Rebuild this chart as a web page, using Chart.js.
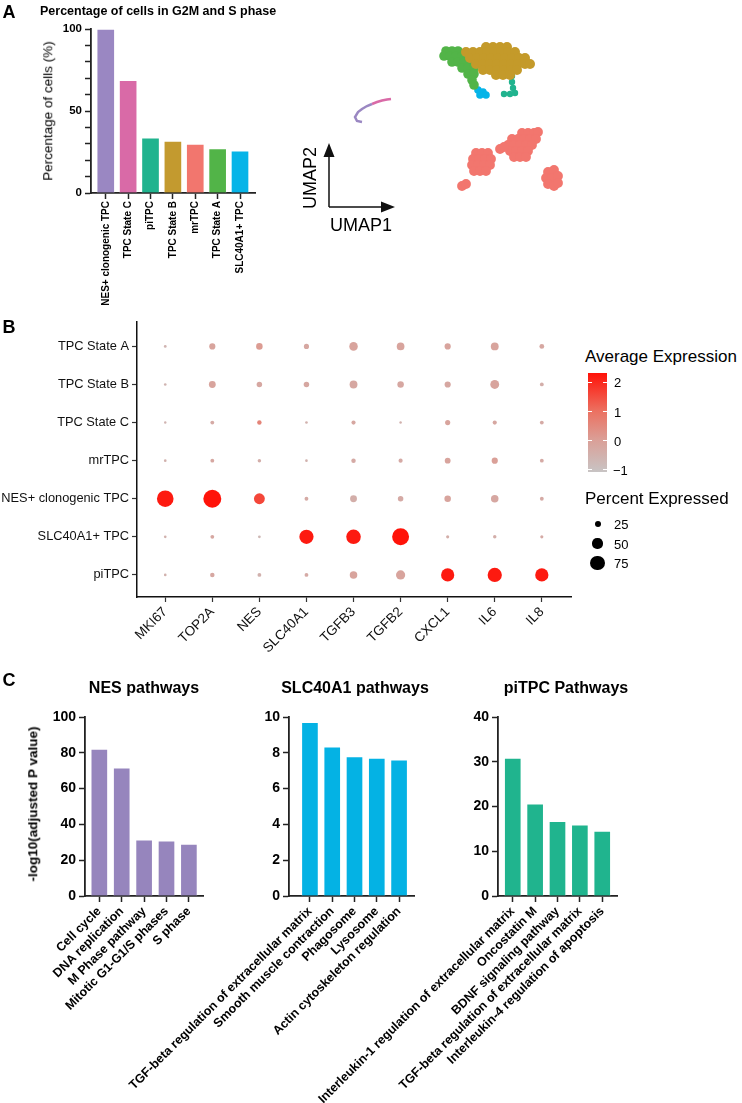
<!DOCTYPE html>
<html>
<head>
<meta charset="utf-8">
<script src="https://cdn.jsdelivr.net/npm/chart.js@4.4.1/dist/chart.umd.min.js"></script>
<style>
  body { margin: 0; background: #fff; }
  #page { position: relative; width: 742px; height: 1103px; overflow: hidden;
          font-family: "Liberation Sans", Arial, Helvetica, sans-serif; color: #000; }
  canvas { position: absolute; }
  .t { position: absolute; white-space: nowrap; line-height: 1; }
  .c { transform: translate(-50%, -50%); }
  .l { transform: translate(0, -50%); }
  .r90 { transform: translate(-50%, -50%) rotate(-90deg); }
  .b { font-weight: bold; }
</style>
</head>
<body>
<div id="page">
  <canvas id="cycleChart" style="left:0;top:0" width="300" height="320"></canvas>
  <canvas id="umapChart" style="left:295px;top:30px" width="275" height="200"></canvas>
  <canvas id="dotChart" style="left:0;top:310px" width="580" height="370"></canvas>
  <canvas id="nesChart" style="left:0;top:700px" width="215" height="403"></canvas>
  <canvas id="slcChart" style="left:110px;top:700px" width="320" height="403"></canvas>
  <canvas id="piChart" style="left:300px;top:700px" width="330" height="403"></canvas>

  <div class="t c b" style="left:9px;top:11.5px;font-size:18px">A</div>
  <div class="t l b" style="left:40px;top:10.5px;font-size:12.5px">Percentage of cells in G2M and S phase</div>
  <div class="t r90" style="left:48px;top:111px;font-size:13.5px">Percentage of cells (%)</div>
  <div class="t r90" style="left:310px;top:178px;font-size:18px">UMAP2</div>
  <div class="t c" style="left:361px;top:225px;font-size:18px">UMAP1</div>

  <div class="t c b" style="left:9px;top:326.5px;font-size:18px">B</div>
  <div class="t l" style="left:585px;top:356px;font-size:17px">Average Expression</div>
  <div id="colorBar" style="position:absolute;left:588px;top:373px;width:19px;height:99px"></div>
  <div class="t l" style="left:614px;top:382px;font-size:13px">2</div>
  <div class="t l" style="left:614px;top:411.7px;font-size:13px">1</div>
  <div class="t l" style="left:614px;top:440.7px;font-size:13px">0</div>
  <div class="t l" style="left:613px;top:470px;font-size:13px">&minus;1</div>
  <div class="t l" style="left:585px;top:497.5px;font-size:17px">Percent Expressed</div>
  <div id="sizeLegend"></div>

  <div class="t c b" style="left:9px;top:680px;font-size:18px">C</div>
  <div class="t c b" style="left:144px;top:687.5px;font-size:16px">NES pathways</div>
  <div class="t c b" style="left:355px;top:687.5px;font-size:16px">SLC40A1 pathways</div>
  <div class="t c b" style="left:566px;top:687.5px;font-size:16px">piTPC Pathways</div>
  <div class="t r90 b" style="left:33px;top:804px;font-size:13.5px">-log10(adjusted P value)</div>
</div>
<script>
// panel A: cycling cells per cluster
const cycleTypes = ['NES+ clonogenic TPC', 'TPC State C', 'piTPC', 'TPC State B', 'mrTPC', 'TPC State A', 'SLC40A1+ TPC'];
const cyclePct = [100, 68.7, 33.6, 31.6, 29.9, 27.1, 25.7];
const cycleColors = ['#9a87c2', '#d96aa7', '#20b38e', '#c39a2f', '#f2766e', '#52b448', '#06b4e8'];

// panel A: UMAP (cluster regions)
const umapTpcB = [[16.1,15.3],[16.8,15.3],[17.5,15.3],[18.2,15.3],
  [14.1,14.8],[14.8,14.8],[15.5,14.8],[16.2,14.8],[16.9,14.8],[17.6,14.8],[18.3,14.8],[19.0,14.8],
  [14.5,14.2],[15.2,14.2],[15.9,14.2],[16.6,14.2],[17.3,14.2],[18.0,14.2],[18.7,14.2],[19.4,14.2],[20.0,14.2],
  [15.1,13.6],[15.8,13.6],[16.5,13.6],[17.2,13.6],[17.9,13.6],[18.6,13.6],[19.3,13.6],[20.0,13.6],[20.5,13.6],
  [15.8,13.0],[16.5,13.0],[17.2,13.0],[17.9,13.0],[18.6,13.0],[19.2,13.0],
  [17.1,12.5],[17.8,12.5],[18.5,12.5]];
const umapTpcA = [[12.1,14.9],[12.7,14.9],[13.3,14.9],
  [11.9,14.4],[12.5,14.4],[13.1,14.4],[13.7,14.4],
  [12.7,13.8],[13.3,13.8],[13.9,13.8],[14.4,13.8],
  [13.7,13.2],[14.3,13.2],[14.9,13.2],
  [14.3,12.6],[14.9,12.6],[14.7,12.0],[14.9,11.5]];
const umapSlc = [[15.3,11.0],[15.8,10.8],[15.5,10.5],[16.1,10.5]];
const umapPiTpc = [[18.7,12.4],[18.7,11.8],[18.8,11.2],[17.9,10.6],[18.5,10.6],[19.0,10.7]];
const umapMrTpc = [[15.1,4.7],[15.7,4.7],[16.3,4.7],
  [14.8,4.1],[15.4,4.1],[16.0,4.1],[16.6,4.1],
  [14.7,3.5],[15.3,3.5],[15.9,3.5],[16.5,3.5],
  [14.9,2.9],[15.5,2.9],[16.1,2.9],
  [19.7,6.7],[20.3,6.7],[20.9,6.7],[21.3,6.8],
  [18.7,6.1],[19.3,6.1],[19.9,6.1],[20.5,6.1],[21.1,6.1],
  [18.3,5.5],[18.9,5.5],[19.5,5.5],[20.1,5.5],[20.7,5.5],
  [18.5,4.9],[19.1,4.9],[19.7,4.9],[20.3,4.9],
  [18.9,4.3],[19.5,4.3],[20.1,4.3],
  [17.5,5.1],[17.9,5.3],[13.7,1.4],[14.1,1.6],
  [22.3,2.8],[22.9,3.0],[22.1,2.2],[22.7,2.2],[23.3,2.4],[22.3,1.6],[22.9,1.4],[23.3,1.7]];
const umapNes = [[3.7,7.8],[3.2,7.9],[3.0,8.3],[3.3,8.8],[3.7,9.1],[4.2,9.4],[4.7,9.6]];
const umapStateC = [[4.7,9.6],[5.2,9.8],[5.7,9.95],[6.2,10.05],[6.6,10.1]];

// panel B: dot plot
const dotGenes = ['MKI67', 'TOP2A', 'NES', 'SLC40A1', 'TGFB3', 'TGFB2', 'CXCL1', 'IL6', 'IL8'];
const dotRows = ['TPC State A', 'TPC State B', 'TPC State C', 'mrTPC', 'NES+ clonogenic TPC', 'SLC40A1+ TPC', 'piTPC'];
const pctExpressed = [
  [6, 26, 28, 20, 40, 35, 26, 36, 18],
  [5, 30, 22, 22, 36, 28, 26, 42, 12],
  [4, 12, 16, 5, 14, 4, 20, 14, 12],
  [5, 12, 10, 5, 16, 14, 24, 26, 12],
  [88, 96, 54, 12, 30, 22, 28, 34, 12],
  [5, 12, 6, 74, 76, 90, 8, 10, 8],
  [5, 16, 12, 12, 34, 44, 68, 74, 68]
];
const avgExpression = [
  [-0.6, -0.1, 0.1, -0.2, -0.1, -0.1, -0.1, -0.1, -0.2],
  [-0.6, -0.1, -0.2, -0.2, -0.2, -0.2, -0.2, -0.1, -0.4],
  [-0.6, -0.3, 0.6, -0.5, -0.2, -0.5, -0.1, -0.2, -0.3],
  [-0.5, -0.2, -0.4, -0.5, -0.3, -0.3, -0.1, 0.0, -0.3],
  [2.2, 2.3, 1.6, -0.3, -0.4, -0.3, -0.1, -0.2, -0.3],
  [-0.5, -0.2, -0.7, 2.2, 2.2, 2.3, -0.4, -0.4, -0.3],
  [-0.5, -0.2, -0.5, -0.3, -0.1, -0.1, 2.2, 2.2, 2.2]
];
const legendPct = [25, 50, 75];

// panel C: enriched pathways
const nesPathways = ['Cell cycle', 'DNA replication', 'M Phase pathway', 'Mitotic G1-G1/S phases', 'S phase'];
const nesScores = [82.1, 71.6, 31.4, 30.8, 29.0];
const slcPathways = ['TGF-beta regulation of extracellular matrix', 'Smooth muscle contraction', 'Phagosome', 'Lysosome', 'Actin cytoskeleton regulation'];
const slcScores = [9.7, 8.33, 7.79, 7.7, 7.61];
const piPathways = ['Interleukin-1 regulation of extracellular matrix', 'Oncostatin M', 'BDNF signaling pathway', 'TGF-beta regulation of extracellular matrix', 'Interleukin-4 regulation of apoptosis'];
const piScores = [30.8, 20.6, 16.7, 15.9, 14.5];

Chart.defaults.font.family = '"Liberation Sans", Arial, Helvetica, sans-serif';
Chart.defaults.color = '#111';

// colour scale for average expression
const expMin = -1.07, expMax = 2.31;
const expStops = [[0, [200, 196, 196]], [0.32, [218, 160, 152]], [0.62, [236, 112, 96]], [1, [255, 18, 8]]];
function expColor(v) {
  const t = Math.max(0, Math.min(1, (v - expMin) / (expMax - expMin)));
  for (let i = 1; i < expStops.length; i++) {
    const [t1, c1] = expStops[i];
    const [t0, c0] = expStops[i - 1];
    if (t <= t1) {
      const f = (t - t0) / (t1 - t0);
      return 'rgb(' + c0.map((c, k) => Math.round(c + (c1[k] - c) * f)).join(',') + ')';
    }
  }
}
function dotRadius(pct) { return 0.9 + 0.084 * pct; }

document.getElementById('colorBar').style.background =
  'linear-gradient(to top, ' + expStops.map(s => 'rgb(' + s[1].join(',') + ') ' + (s[0] * 100) + '%').join(', ') + ')';
[2, 1, 0, -1].forEach(v => {
  const y = 373 + (expMax - v) / (expMax - expMin) * 99;
  [588, 603].forEach(x => {
    const tick = document.createElement('div');
    tick.style.cssText = `position:absolute;left:${x}px;top:${y - 0.5}px;width:4px;height:1px;background:#fff`;
    document.getElementById('page').appendChild(tick);
  });
});
const sizeBox = document.getElementById('sizeLegend');
legendPct.forEach((p, i) => {
  const cy = 524 + i * 19.5, r = dotRadius(p);
  sizeBox.insertAdjacentHTML('beforeend',
    `<div style="position:absolute;left:${597.5 - r}px;top:${cy - r}px;width:${2 * r}px;height:${2 * r}px;border-radius:50%;background:#000"></div>` +
    `<div class="t l" style="left:614px;top:${cy}px;font-size:13px">${p}</div>`);
});

const noPlugins = { legend: { display: false }, tooltip: { enabled: false } };

function indexAxis(names, min, max, height, rot, font) {
  return {
    type: 'linear', min: min, max: max, offset: false,
    afterBuildTicks: s => { s.ticks = names.map((_, i) => ({ value: i })); },
    afterFit: s => { s.height = height; s.paddingLeft = 0; s.paddingRight = 0; },
    border: { display: true, color: '#222', width: 1.8 },
    grid: { offset: false, drawOnChartArea: false, tickLength: 6, tickColor: '#222', tickWidth: 1.5 },
    ticks: { autoSkip: false, maxRotation: rot, minRotation: rot, padding: 2, color: '#000',
             font: font, callback: v => names[v] }
  };
}

function barChart(id, names, values, colors, o) {
  return new Chart(document.getElementById(id), {
    type: 'bar',
    data: { datasets: [{ data: values.map((v, i) => ({ x: i, y: v })), backgroundColor: colors,
                         borderColor: 'rgba(255,255,255,0.45)', borderWidth: 1, barThickness: o.barW }] },
    options: {
      animation: false, responsive: false, devicePixelRatio: 1,
      layout: { padding: o.pad },
      plugins: noPlugins,
      scales: {
        x: indexAxis(names, o.xMin, o.xMax, o.xH, o.rot, { size: o.xFont, weight: 'bold' }),
        y: {
          min: 0, max: o.yMax,
          afterFit: s => { s.width = o.yW; s.paddingTop = 0; s.paddingBottom = 0; },
          border: { display: true, color: '#222', width: 1.8 },
          grid: { drawOnChartArea: false, tickLength: 6, tickColor: '#222', tickWidth: 1.5 },
          ticks: { autoSkip: false, stepSize: o.step, padding: 3, color: '#000', font: { size: o.yFont, weight: 'bold' },
                   callback: o.yLabel || (v => v) }
        }
      }
    }
  });
}

barChart('cycleChart', cycleTypes, cyclePct, cycleColors, {
  barW: 18, pad: { top: 29, right: 45, left: 0, bottom: 0 }, xMin: -0.66, xMax: 6.67, xH: 127, rot: 90,
  xFont: 10, yMax: 100, yW: 91, step: 10, yFont: 11.5, yLabel: v => (v % 50 === 0 ? v : '')
});
barChart('nesChart', nesPathways, nesScores, '#9685bd', {
  barW: 17, pad: { top: 17, right: 12, left: 0, bottom: 0 }, xMin: -0.64, xMax: 4.63, xH: 207, rot: 45,
  xFont: 12.5, yMax: 100, yW: 85, step: 20, yFont: 14
});
barChart('slcChart', slcPathways, slcScores, '#04b2e4', {
  barW: 17, pad: { top: 17, right: 16, left: 0, bottom: 0 }, xMin: -0.94, xMax: 4.67, xH: 207, rot: 45,
  xFont: 12.5, yMax: 10, yW: 179, step: 2, yFont: 14
});
barChart('piChart', piPathways, piScores, '#20b48e', {
  barW: 17, pad: { top: 17, right: 13, left: 0, bottom: 0 }, xMin: -0.66, xMax: 4.66, xH: 207, rot: 45,
  xFont: 12.5, yMax: 40, yW: 198, step: 10, yFont: 14
});

// UMAP scatter with axis arrows
const umapArrows = {
  id: 'umapArrows',
  afterDraw(chart) {
    const { ctx, chartArea } = chart;
    const x0 = chartArea.left + 4, y0 = chartArea.bottom + 7;
    ctx.save();
    ctx.strokeStyle = '#111';
    ctx.fillStyle = '#111';
    ctx.lineWidth = 1.5;
    ctx.beginPath();
    ctx.moveTo(x0, y0); ctx.lineTo(x0, y0 - 54);
    ctx.moveTo(x0, y0); ctx.lineTo(x0 + 56, y0);
    ctx.stroke();
    ctx.beginPath();
    ctx.moveTo(x0, y0 - 64); ctx.lineTo(x0 - 5.5, y0 - 50); ctx.lineTo(x0 + 5.5, y0 - 50); ctx.closePath();
    ctx.moveTo(x0 + 66, y0); ctx.lineTo(x0 + 52, y0 - 5.5); ctx.lineTo(x0 + 52, y0 + 5.5); ctx.closePath();
    ctx.fill();
    ctx.restore();
  }
};
const toXY = arr => arr.map(p => ({ x: p[0], y: p[1] }));
function blob(arr, color, r) {
  return { data: toXY(arr), backgroundColor: color, borderWidth: 0, pointRadius: r, pointHoverRadius: r, clip: false };
}
new Chart(document.getElementById('umapChart'), {
  type: 'scatter',
  data: {
    datasets: [
      blob(umapTpcB, '#c49a2a', 5),
      blob(umapTpcA, '#52b448', 4.8),
      blob(umapSlc, '#06b4e8', 3.8),
      blob(umapPiTpc, '#20b38e', 3.2),
      blob(umapMrTpc, '#f2766e', 4.9),
      { data: toXY(umapNes), showLine: true, borderColor: '#9a87c2', borderWidth: 2.5, pointRadius: 0, clip: false },
      { data: toXY(umapStateC), showLine: true, borderColor: '#d96aa7', borderWidth: 2.5, pointRadius: 0, clip: false }
    ]
  },
  options: {
    animation: false, responsive: false, devicePixelRatio: 1,
    layout: { padding: { left: 30, top: 10, right: 5, bottom: 30 } },
    plugins: noPlugins,
    scales: { x: { display: false, min: 0, max: 24 }, y: { display: false, min: 0, max: 16 } }
  },
  plugins: [umapArrows]
});

// dot plot
const dotPoints = [];
dotRows.forEach((row, r) => dotGenes.forEach((g, c) => {
  dotPoints.push({ x: c + 1, y: dotRows.length - r, pct: pctExpressed[r][c], avg: avgExpression[r][c] });
}));
new Chart(document.getElementById('dotChart'), {
  type: 'scatter',
  data: {
    datasets: [{
      data: dotPoints, clip: false, borderWidth: 0,
      pointRadius: ctx => dotRadius(ctx.raw.pct),
      pointHoverRadius: ctx => dotRadius(ctx.raw.pct),
      backgroundColor: ctx => expColor(ctx.raw.avg)
    }]
  },
  options: {
    animation: false, responsive: false, devicePixelRatio: 1,
    layout: { padding: { top: 12, right: 9, left: 0, bottom: 0 } },
    plugins: noPlugins,
    scales: {
      x: {
        type: 'linear', min: 0.4, max: 9.62,
        afterBuildTicks: s => { s.ticks = dotGenes.map((_, i) => ({ value: i + 1 })); },
        afterFit: s => { s.height = 83; s.paddingLeft = 0; s.paddingRight = 0; },
        border: { display: true, color: '#111', width: 1.5 },
        grid: { drawOnChartArea: false, tickLength: 5, tickColor: '#333', tickWidth: 1.2 },
        ticks: { autoSkip: false, maxRotation: 45, minRotation: 45, padding: 2, color: '#111',
                 font: { size: 13.5 }, callback: v => dotGenes[v - 1] }
      },
      y: {
        min: 0.42, max: 7.64,
        afterBuildTicks: s => { s.ticks = dotRows.map((_, i) => ({ value: i + 1 })); },
        afterFit: s => { s.width = 137; s.paddingTop = 0; s.paddingBottom = 0; },
        border: { display: true, color: '#111', width: 1.5 },
        grid: { drawOnChartArea: false, tickLength: 5, tickColor: '#333', tickWidth: 1.2 },
        ticks: { autoSkip: false, padding: 3, color: '#111', font: { size: 12.8 },
                 callback: v => dotRows[dotRows.length - v] }
      }
    }
  }
});
</script>
</body>
</html>
